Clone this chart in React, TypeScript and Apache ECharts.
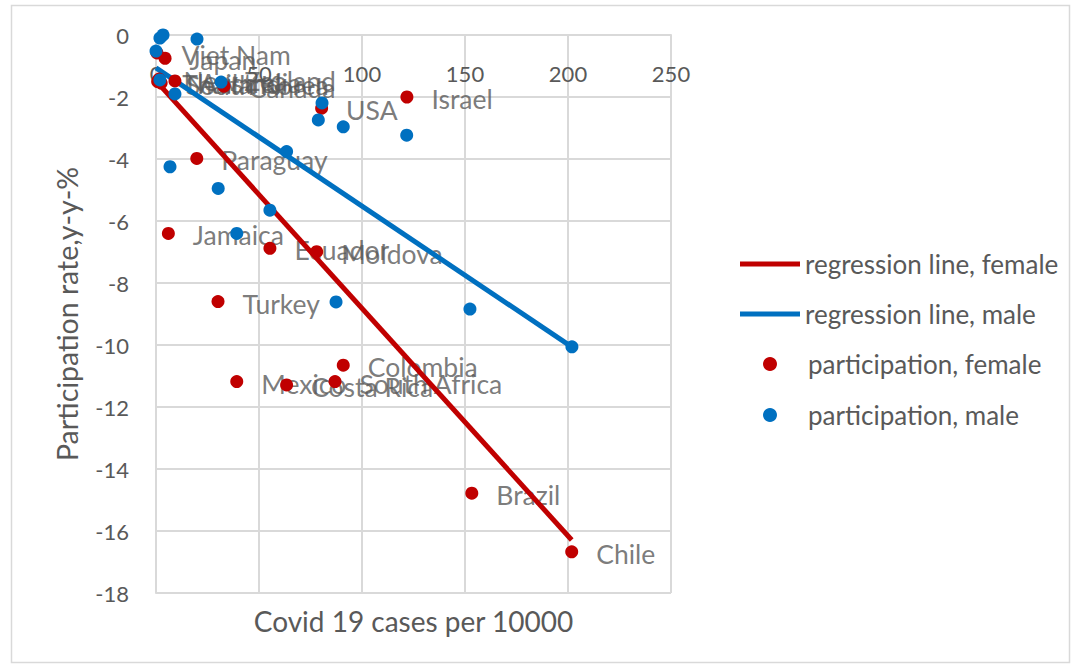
import React, { useEffect, useRef } from "react";
import * as echarts from "echarts";

// ---- data ----
const countries = [
  "Viet Nam", "Japan", "New Zealand", "Australia", "South Korea", "Thailand",
  "Canada", "USA", "Israel", "Paraguay", "Jamaica", "Ecuador", "Moldova",
  "Turkey", "Mexico", "Costa Rica", "South Africa", "Colombia", "Brazil", "Chile",
];
const femaleCases = [0.5, 4.4, 1.5, 9.2, 2.5, 0.8, 33.0, 80.4, 121.8, 19.8, 6.0, 55.3, 78.0, 30.1, 39.2, 63.4, 86.9, 90.9, 153.3, 201.8];
const femaleRate = [-0.58, -0.75, -1.42, -1.48, -1.55, -1.5, -1.65, -2.36, -2.0, -3.98, -6.4, -6.88, -6.99, -8.6, -11.18, -11.29, -11.18, -10.65, -14.78, -16.67];

const maleCases = [1.9, 3.4, 19.9, 0.0, 1.9, 9.2, 31.6, 80.6, 78.8, 90.9, 121.7, 63.4, 6.8, 30.2, 55.3, 39.2, 87.4, 152.4, 201.9];
const maleRate = [-0.1, 0.0, -0.13, -0.52, -1.45, -1.9, -1.52, -2.19, -2.74, -2.96, -3.23, -3.76, -4.25, -4.95, -5.65, -6.4, -8.61, -8.84, -10.06];

const femaleLineX = [0, 201.8];
const femaleLineY = [-1.48, -16.29];
const maleLineX = [0, 201.8];
const maleLineY = [-1.06, -10.06];

const xMin = 0, xMax = 250, xStep = 50;
const yMin = -18, yMax = 0, yStep = 2;

const legendNames = [
  "regression line, female",
  "regression line, male",
  "participation, female",
  "participation, male",
];

const RED = "#C00000";
const BLUE = "#0070C0";
const TEXT = "#595959";
const GRID = "#d9d9d9";
const FONT = "Lato";

export default function App() {
  const ref = useRef<HTMLDivElement>(null);
  useEffect(() => {
    if (!ref.current) return;
    const chart = echarts.init(ref.current, undefined, { renderer: "svg" });
    const zip = (xs: number[], ys: number[]) => xs.map((x, i) => [x, ys[i]]);
    const legendTops = [264, 314, 364, 415];
    const legends = legendNames.map((name, i) => ({
      left: i < 2 ? 740 : 763,
      top: legendTops[i] - 15,
      padding: 0,
      orient: "vertical",
      itemWidth: i < 2 ? 60 : 14,
      itemHeight: i < 2 ? 5 : 14,
      itemGap: 0,
      selectedMode: false,
      textStyle: {
        fontFamily: FONT,
        fontSize: 26,
        color: TEXT,
        lineHeight: 30,
        padding: i < 2 ? 0 : [0, 0, 0, 26],
      },
      data: [{ name, icon: i < 2 ? "rect" : "circle" }],
    }));
    chart.setOption({
      animation: false,
      backgroundColor: "#fff",
      textStyle: { fontFamily: FONT },
      graphic: [
        {
          type: "rect",
          left: 9,
          top: 3,
          shape: { width: 1058, height: 657 },
          style: { fill: "none", stroke: GRID, lineWidth: 1.5 },
          z: -1,
          silent: true,
        },
      ],
      legend: legends,
      grid: {
        left: 156,
        right: 404,
        top: 35,
        bottom: 74,
        containLabel: false,
        outerBoundsMode: "none",
      },
      xAxis: {
        type: "value",
        min: xMin,
        max: xMax,
        interval: xStep,
        position: "top",
        axisLine: { show: true, onZero: false, lineStyle: { color: GRID, width: 2 } },
        axisTick: { show: false },
        axisLabel: {
          fontFamily: FONT,
          fontSize: 22,
          color: TEXT,
          inside: true,
          margin: 27,
          hideOverlap: false,
        },
        splitLine: { show: true, lineStyle: { color: GRID, width: 2 } },
        name: "Covid 19 cases per 10000",
        nameLocation: "middle",
        nameGap: -586,
        nameTextStyle: { fontFamily: FONT, fontSize: 28, color: TEXT, verticalAlign: "middle" },
      },
      yAxis: {
        type: "value",
        min: yMin,
        max: yMax,
        interval: yStep,
        axisLine: { show: true, lineStyle: { color: GRID, width: 2 } },
        axisTick: { show: false },
        axisLabel: { fontFamily: FONT, fontSize: 22, color: TEXT, margin: 27, showMinLabel: true, showMaxLabel: true },
        splitLine: { show: true, lineStyle: { color: GRID, width: 2 } },
        name: "Participation rate,y-y-%",
        nameLocation: "middle",
        nameGap: 75,
        nameTextStyle: { fontFamily: FONT, fontSize: 28.5, color: TEXT },
      },
      series: [
        {
          name: "labels",
          type: "scatter",
          z: 1,
          symbolSize: 13,
          itemStyle: { color: "transparent" },
          silent: true,
          data: countries.map((c, i) => ({ name: c, value: [femaleCases[i], femaleRate[i]] })),
          label: {
            show: true,
            position: "right",
            distance: 18,
            offset: [0, 2],
            formatter: "{b}",
            fontFamily: FONT,
            fontSize: 26.5,
            color: TEXT,
          },
        },
        {
          name: legendNames[0],
          type: "line",
          z: 2,
          data: zip(femaleLineX, femaleLineY),
          showSymbol: false,
          symbol: "none",
          lineStyle: { color: RED, width: 5 },
          itemStyle: { color: RED },
        },
        {
          name: legendNames[1],
          type: "line",
          z: 2,
          data: zip(maleLineX, maleLineY),
          showSymbol: false,
          symbol: "none",
          lineStyle: { color: BLUE, width: 5 },
          itemStyle: { color: BLUE },
        },
        {
          name: legendNames[2],
          type: "scatter",
          z: 3,
          symbolSize: 13,
          itemStyle: { color: RED, opacity: 1 },
          data: zip(femaleCases, femaleRate),
        },
        {
          name: legendNames[3],
          type: "scatter",
          z: 4,
          symbolSize: 13,
          itemStyle: { color: BLUE, opacity: 1 },
          data: zip(maleCases, maleRate),
        },
      ],
    });
    return () => chart.dispose();
  }, []);
  return (
    <div
      ref={ref}
      style={{ position: "absolute", left: 0, top: 0, width: 1075, height: 667 }}
    />
  );
}
